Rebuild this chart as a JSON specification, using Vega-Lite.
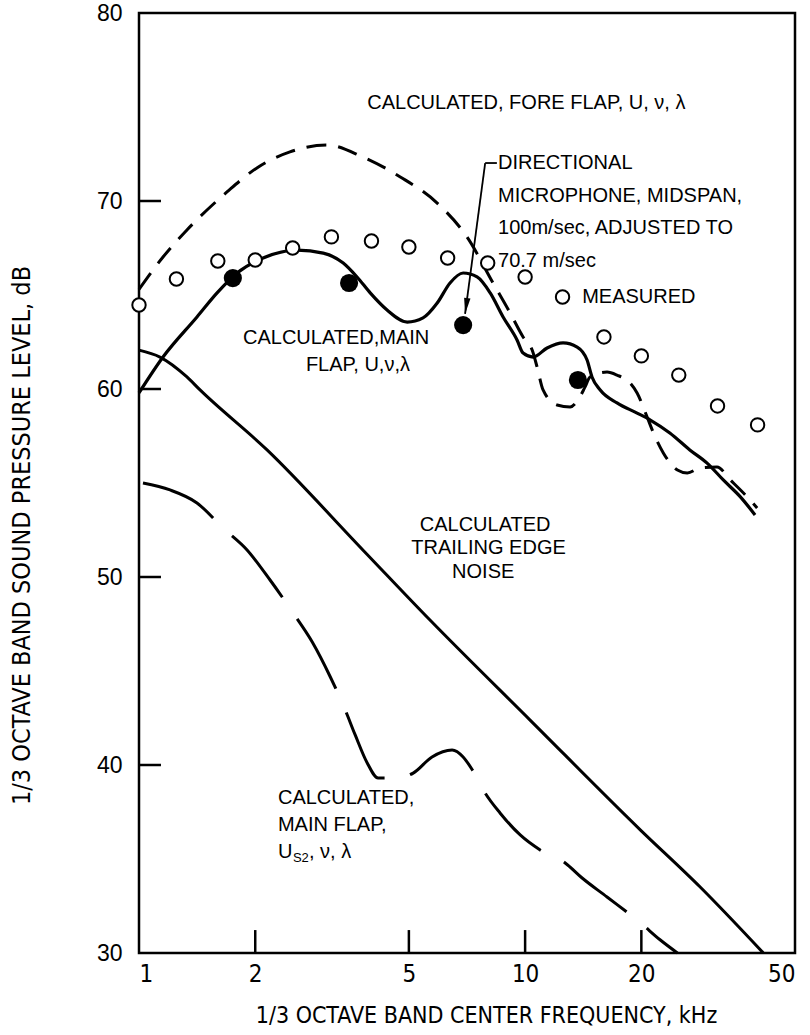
{
  "$schema": "https://vega.github.io/schema/vega-lite/v6.json",
  "width": 656,
  "height": 940,
  "autosize": {"type": "none"},
  "padding": {"left": 139, "top": 13, "right": 15, "bottom": 82},
  "background": "white",
  "config": {
    "view": {"stroke": "black", "strokeWidth": 2.5},
    "axis": {"grid": false, "ticks": false, "domain": false, "labelColor": "black", "titleColor": "black", "titleFontWeight": "normal"},
    "text": {"font": "Liberation Sans", "fontSize": 20, "color": "black"}
  },
  "datasets": {
    "xticks": [
      {"f": 2, "db": 30, "db2": 31.22}, {"f": 5, "db": 30, "db2": 31.22}, {"f": 10, "db": 30, "db2": 31.22}, {"f": 20, "db": 30, "db2": 31.22}
    ],
    "yticks": [
      {"f": 1, "db": 40, "f2": 1.14}, {"f": 1, "db": 50, "f2": 1.14}, {"f": 1, "db": 60, "f2": 1.14}, {"f": 1, "db": 70, "f2": 1.14}
    ],
    "fore": [
      {"f": 1.0, "db": 65.3}, {"f": 1.154, "db": 67.02}, {"f": 1.331, "db": 68.46}, {"f": 1.5, "db": 69.52}, {"f": 1.69, "db": 70.48},
      {"f": 2.02, "db": 71.76}, {"f": 2.46, "db": 72.61}, {"f": 3.07, "db": 72.98}, {"f": 3.8, "db": 72.34}, {"f": 4.75, "db": 71.28},
      {"f": 5.92, "db": 69.89}, {"f": 7.07, "db": 68.09}, {"f": 8.26, "db": 65.64}, {"f": 9.15, "db": 64.04}, {"f": 9.88, "db": 62.77},
      {"f": 10.43, "db": 62.07}, {"f": 10.74, "db": 61.17}, {"f": 11.13, "db": 59.95}, {"f": 12.1, "db": 59.15}, {"f": 13.08, "db": 59.04},
      {"f": 13.7, "db": 59.41}, {"f": 14.3, "db": 60.11}, {"f": 14.73, "db": 60.64}, {"f": 16.3, "db": 60.9}, {"f": 17.3, "db": 60.74},
      {"f": 18.7, "db": 60.32}, {"f": 19.5, "db": 59.79}, {"f": 20.7, "db": 58.51}, {"f": 21.5, "db": 57.66}, {"f": 22.8, "db": 56.6},
      {"f": 24.8, "db": 55.69}, {"f": 26.3, "db": 55.53}, {"f": 28.4, "db": 55.8}, {"f": 31.4, "db": 55.85}, {"f": 34.0, "db": 55.16},
      {"f": 37.6, "db": 54.26}, {"f": 39.9, "db": 53.67}
    ],
    "main": [
      {"f": 1.0, "db": 59.79}, {"f": 1.154, "db": 61.7}, {"f": 1.413, "db": 63.83}, {"f": 1.593, "db": 65.11}, {"f": 1.794, "db": 66.17},
      {"f": 2.096, "db": 66.97}, {"f": 2.567, "db": 67.39}, {"f": 3.0, "db": 67.23}, {"f": 3.38, "db": 66.7}, {"f": 3.67, "db": 65.96},
      {"f": 3.97, "db": 65.11}, {"f": 4.39, "db": 64.2}, {"f": 4.95, "db": 63.56}, {"f": 5.44, "db": 63.78}, {"f": 5.92, "db": 64.57},
      {"f": 6.39, "db": 65.64}, {"f": 6.91, "db": 66.17}, {"f": 7.51, "db": 65.96}, {"f": 8.12, "db": 65.11}, {"f": 8.77, "db": 63.83},
      {"f": 9.53, "db": 62.61}, {"f": 9.88, "db": 61.91}, {"f": 10.49, "db": 61.7}, {"f": 11.4, "db": 62.18}, {"f": 12.54, "db": 62.45},
      {"f": 13.64, "db": 62.23}, {"f": 14.47, "db": 61.54}, {"f": 14.9, "db": 60.64}, {"f": 15.65, "db": 59.95}, {"f": 17.3, "db": 59.26},
      {"f": 19.5, "db": 58.72}, {"f": 21.1, "db": 58.35}, {"f": 23.7, "db": 57.66}, {"f": 26.7, "db": 56.76}, {"f": 29.6, "db": 56.06},
      {"f": 32.6, "db": 55.16}, {"f": 36.1, "db": 54.26}, {"f": 39.4, "db": 53.3}
    ],
    "trailing": [
      {"f": 1.0, "db": 62.07}, {"f": 1.133, "db": 61.7}, {"f": 1.331, "db": 60.64}, {"f": 1.439, "db": 59.95}, {"f": 2.146, "db": 56.76},
      {"f": 3.8, "db": 51.44}, {"f": 5.67, "db": 47.71}, {"f": 10.3, "db": 42.39}, {"f": 19.9, "db": 36.54}, {"f": 28.4, "db": 33.51},
      {"f": 41.4, "db": 30.0}
    ],
    "us2": [
      {"f": 1.024, "db": 55.0}, {"f": 1.203, "db": 54.63}, {"f": 1.413, "db": 53.94}, {"f": 1.65, "db": 52.61}, {"f": 1.905, "db": 51.44},
      {"f": 2.185, "db": 49.84}, {"f": 2.506, "db": 48.09}, {"f": 2.81, "db": 46.54}, {"f": 3.13, "db": 44.68}, {"f": 3.42, "db": 42.93},
      {"f": 3.63, "db": 41.6}, {"f": 3.9, "db": 40.11}, {"f": 4.16, "db": 39.31}, {"f": 4.66, "db": 39.31}, {"f": 5.13, "db": 39.57},
      {"f": 5.74, "db": 40.43}, {"f": 6.47, "db": 40.8}, {"f": 6.91, "db": 40.43}, {"f": 7.33, "db": 39.68}, {"f": 7.88, "db": 38.51},
      {"f": 8.61, "db": 37.45}, {"f": 9.71, "db": 36.28}, {"f": 10.94, "db": 35.48}, {"f": 12.7, "db": 34.79}, {"f": 14.05, "db": 33.99},
      {"f": 16.3, "db": 32.98}, {"f": 19.9, "db": 31.6}, {"f": 22.4, "db": 30.69}, {"f": 24.8, "db": 30.0}
    ],
    "measured": [
      {"f": 1.0, "db": 64.47}, {"f": 1.25, "db": 65.85}, {"f": 1.6, "db": 66.81}, {"f": 2.0, "db": 66.86}, {"f": 2.5, "db": 67.5},
      {"f": 3.15, "db": 68.09}, {"f": 4.0, "db": 67.87}, {"f": 5.0, "db": 67.55}, {"f": 6.3, "db": 66.97}, {"f": 8.0, "db": 66.7},
      {"f": 10.0, "db": 65.96}, {"f": 12.5, "db": 64.89}, {"f": 16.0, "db": 62.77}, {"f": 20.0, "db": 61.76}, {"f": 25.0, "db": 60.74},
      {"f": 31.5, "db": 59.1}, {"f": 40.0, "db": 58.09}
    ],
    "directional": [
      {"f": 1.75, "db": 65.9}, {"f": 3.5, "db": 65.64}, {"f": 6.91, "db": 63.4}, {"f": 13.7, "db": 60.48}
    ],
    "leader": [
      {"f": 7.88, "db": 72.02, "f2": 6.99, "db2": 63.99},
      {"f": 7.88, "db": 72.02, "f2": 8.45, "db2": 72.02}
    ],
    "arrowhead": [
      {"f": 6.99, "db": 63.99}
    ],
    "notesLeft": [
      {"f": 3.9, "db": 75.2, "text": "CALCULATED, FORE FLAP, U, ν, λ"},
      {"f": 8.51, "db": 72.02, "text": "DIRECTIONAL"},
      {"f": 8.51, "db": 70.27, "text": "MICROPHONE, MIDSPAN,"},
      {"f": 8.51, "db": 68.56, "text": "100m/sec, ADJUSTED TO"},
      {"f": 8.51, "db": 66.81, "text": "70.7 m/sec"},
      {"f": 14.05, "db": 64.89, "text": "MEASURED"},
      {"f": 2.29, "db": 38.24, "text": "CALCULATED,"},
      {"f": 2.29, "db": 36.81, "text": "MAIN FLAP,"}
    ],
    "notesCenter": [
      {"f": 3.24, "db": 62.71, "text": "CALCULATED,MAIN"},
      {"f": 3.69, "db": 61.28, "text": "FLAP, U,ν,λ"},
      {"f": 7.88, "db": 52.77, "text": "CALCULATED"},
      {"f": 8.04, "db": 51.54, "text": "TRAILING EDGE"},
      {"f": 7.79, "db": 50.27, "text": "NOISE"}
    ],
    "us2Base": [{"f": 2.29, "db": 35.37, "text": "U"}],
    "us2Sub": [{"f": 2.29, "db": 35.37, "text": "S2"}],
    "us2Rest": [{"f": 2.29, "db": 35.37, "text": ", ν, λ"}]
  },
  "encoding": {
    "x": {
      "field": "f", "type": "quantitative",
      "scale": {"type": "log", "domain": [1, 50], "nice": false},
      "axis": {
        "values": [1, 2, 5, 10, 20, 50], "format": "d",
        "labelPadding": 9, "labelFlush": true,
        "labelFont": "DejaVu Sans Condensed, Liberation Sans", "labelFontSize": 24,
        "title": "1/3 OCTAVE BAND CENTER FREQUENCY, kHz",
        "titleFont": "DejaVu Sans Condensed, Liberation Sans", "titleFontSize": 23,
        "titleX": 347, "titleY": 62, "titleBaseline": "middle"
      }
    },
    "y": {
      "field": "db", "type": "quantitative",
      "scale": {"domain": [30, 80], "zero": false, "nice": false},
      "axis": {
        "values": [30, 40, 50, 60, 70, 80],
        "labelPadding": 17,
        "labelFont": "Liberation Sans", "labelFontSize": 23,
        "title": "1/3 OCTAVE BAND SOUND PRESSURE LEVEL, dB",
        "titleFont": "DejaVu Sans Condensed, Liberation Sans", "titleFontSize": 25,
        "titleX": -118, "titleY": 522, "titleAngle": -90, "titleAlign": "center", "titleBaseline": "middle"
      }
    }
  },
  "layer": [
    {"data": {"name": "xticks"}, "mark": {"type": "rule", "color": "black", "strokeWidth": 2.5},
     "encoding": {"y2": {"field": "db2"}}},
    {"data": {"name": "yticks"}, "mark": {"type": "rule", "color": "black", "strokeWidth": 2.5},
     "encoding": {"x2": {"field": "f2"}}},
    {"data": {"name": "trailing"}, "mark": {"type": "line", "color": "black", "strokeWidth": 3, "interpolate": "monotone"}},
    {"data": {"name": "us2"}, "mark": {"type": "line", "color": "black", "strokeWidth": 3, "strokeDash": [80, 26], "interpolate": "monotone"}},
    {"data": {"name": "main"}, "mark": {"type": "line", "color": "black", "strokeWidth": 3.2, "interpolate": "monotone"}},
    {"data": {"name": "fore"}, "mark": {"type": "line", "color": "black", "strokeWidth": 3, "strokeDash": [20, 12], "interpolate": "monotone"}},
    {"data": {"name": "leader"}, "mark": {"type": "rule", "color": "black", "strokeWidth": 1.8},
     "encoding": {"x2": {"field": "f2"}, "y2": {"field": "db2"}}},
    {"data": {"name": "arrowhead"}, "mark": {"type": "point", "shape": "M0,0L-0.4,-2L0.4,-2Z", "size": 256, "filled": true, "color": "black", "opacity": 1, "angle": 8}},
    {"data": {"name": "measured"}, "mark": {"type": "point", "shape": "circle", "size": 180, "filled": true, "fill": "white", "stroke": "black", "strokeWidth": 2, "opacity": 1}},
    {"data": {"name": "directional"}, "mark": {"type": "point", "shape": "circle", "size": 330, "filled": true, "color": "black", "opacity": 1}},
    {"data": {"name": "notesLeft"}, "mark": {"type": "text", "align": "left", "baseline": "middle"}, "encoding": {"text": {"field": "text"}}},
    {"data": {"name": "notesCenter"}, "mark": {"type": "text", "align": "center", "baseline": "middle"}, "encoding": {"text": {"field": "text"}}},
    {"data": {"name": "us2Base"}, "mark": {"type": "text", "align": "left", "baseline": "middle"}, "encoding": {"text": {"field": "text"}}},
    {"data": {"name": "us2Sub"}, "mark": {"type": "text", "align": "left", "baseline": "middle", "dx": 15, "dy": 6, "fontSize": 13}, "encoding": {"text": {"field": "text"}}},
    {"data": {"name": "us2Rest"}, "mark": {"type": "text", "align": "left", "baseline": "middle", "dx": 31}, "encoding": {"text": {"field": "text"}}}
  ]
}
